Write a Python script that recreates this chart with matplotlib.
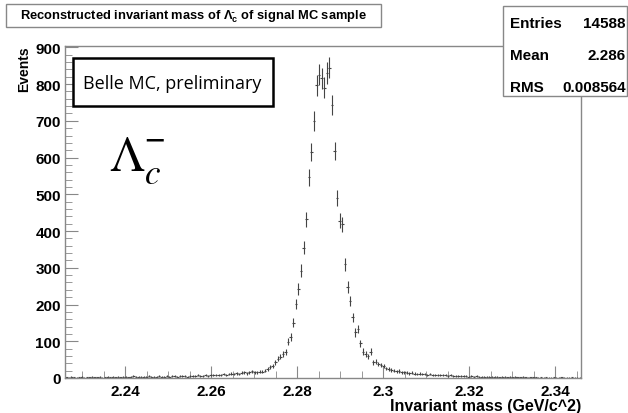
import numpy as np
import matplotlib
matplotlib.use("Agg")
import matplotlib.pyplot as plt
from matplotlib.patches import Rectangle
from matplotlib import font_manager

# histogram: 200 bins from 2.226 to 2.346 GeV/c^2
x_lo, x_hi, n_bins = 2.226, 2.346, 200

# counts, split in three parts
left_tail = [2, 1, 3, 2, 1, 2, 3, 1, 2, 2,
             3, 2, 2, 3, 1, 2, 3, 2, 4, 2,
             3, 2, 3, 4, 2, 3, 5, 3, 4, 3,
             4, 3, 5, 4, 3, 4, 5, 3, 4, 5,
             4, 5, 6, 4, 5, 6, 5, 4, 6, 5,
             6, 7, 5, 6, 8, 6, 7, 9, 7, 8,
             9, 10, 8, 11, 12, 10, 13, 11, 14, 15,
             13, 16, 18, 16, 15, 17]
peak = [17, 20, 24, 29, 33, 43, 53, 58, 65, 70,
        99, 111, 151, 201, 242, 292, 355, 432, 546, 615,
        700, 797, 825, 816, 790, 830, 845, 743, 618, 489,
        428, 419, 310, 247, 210, 165, 124, 133, 95, 72,
        65, 59, 72, 43, 44, 38, 35, 32, 26, 24,
        22, 20, 18, 19, 16, 15]
right_tail = [14, 13, 14, 12, 11, 12, 10, 11, 9, 10,
              8, 9, 8, 7, 8, 7, 6, 7, 6, 5,
              6, 5, 6, 5, 4, 5, 4, 5, 4, 3,
              4, 3, 4, 3, 3, 4, 2, 3, 3, 2,
              3, 2, 3, 2, 2, 3, 2, 1, 2, 2,
              2, 1, 2, 1, 2, 1, 1, 2, 1, 1,
              2, 1, 1, 1, 2, 1, 1, 1]

stats_names = ["Entries", "Mean", "RMS"]
stats_values = ["14588", "2.286", "0.008564"]
x_ticks = [2.24, 2.26, 2.28, 2.30, 2.32, 2.34]
x_ticklabels = ["2.24", "2.26", "2.28", "2.3", "2.32", "2.34"]
y_ticks = [0, 100, 200, 300, 400, 500, 600, 700, 800, 900]

counts = np.array(left_tail + peak + right_tail, dtype=float)
edges = np.linspace(x_lo, x_hi, n_bins + 1)
centers = 0.5 * (edges[:-1] + edges[1:])
bw = edges[1] - edges[0]

plt.rcParams['font.family'] = ['Liberation Sans', 'DejaVu Sans']
plt.rcParams['mathtext.default'] = 'regular'

# ROOT's Helvetica looks a bit condensed; use the narrow face if it is there
installed = {f.name for f in font_manager.fontManager.ttflist}
if 'Liberation Sans Narrow' in installed:
    narrow, title_size = 'Liberation Sans Narrow', 10.7
else:
    narrow, title_size = 'Liberation Sans', 9.3

W, H = 628, 414
fig = plt.figure(figsize=(W / 100, H / 100), dpi=100)
ax = fig.add_axes([65 / W, 1 - 379 / H, (581 - 65) / W, (379 - 46.5) / H])

ax.errorbar(centers, counts, xerr=bw / 2, yerr=np.sqrt(counts), fmt='none',
            ecolor='#444444', elinewidth=0.8, capsize=0)

ax.set_xlim(x_lo, x_hi)
ax.set_ylim(0, 905)
ax.set_xticks(x_ticks)
ax.set_xticklabels(x_ticklabels, fontweight='bold')
ax.set_yticks(y_ticks)
ax.set_yticklabels([str(v) for v in y_ticks], fontweight='bold')
ax.xaxis.set_minor_locator(matplotlib.ticker.MultipleLocator(0.005))
ax.yaxis.set_minor_locator(matplotlib.ticker.MultipleLocator(20))
ax.tick_params(which='both', direction='in', colors='#888888', labelcolor='black',
               labelsize=11)
ax.tick_params(axis='x', which='major', length=9, pad=4)
ax.tick_params(axis='x', which='minor', length=5)
ax.tick_params(axis='y', which='major', length=9, pad=3)
ax.tick_params(axis='y', which='minor', length=5)
for sp in ax.spines.values():
    sp.set_color('#888888')
    sp.set_linewidth(1.0)

ax.set_xlabel('Invariant mass (GeV/c^2)', loc='right', fontsize=11.5,
              fontweight='bold', labelpad=0)
ax.set_ylabel('Events', loc='top', fontsize=10, fontweight='bold', labelpad=3)

# title box
fig.patches.append(Rectangle((6 / W, 1 - 28 / H), 375 / W, 23 / H,
                             transform=fig.transFigure, fc='white',
                             ec='#888888', lw=1.0))
fig.text(193.5 / W, 1 - 16.5 / H,
         r'Reconstructed invariant mass of $\Lambda_c^{\bar{}}$ of signal MC sample',
         ha='center', va='center', fontsize=title_size, fontweight='bold',
         family=[narrow, 'Liberation Sans'])

# stats box
fig.patches.append(Rectangle((503 / W, 1 - 97 / H), 124 / W, 90 / H,
                             transform=fig.transFigure, fc='white',
                             ec='#888888', lw=1.0))
for i, (nm, val) in enumerate(zip(stats_names, stats_values)):
    yy = 1 - (24 + 32 * i) / H
    fig.text(510 / W, yy, nm, ha='left', va='center', fontsize=11,
             fontweight='bold')
    fig.text(626 / W, yy, val, ha='right', va='center', fontsize=11,
             fontweight='bold')

# Belle label
fig.patches.append(Rectangle((73 / W, 1 - 107 / H), 200 / W, 48 / H,
                             transform=fig.transFigure, fc='white',
                             ec='black', lw=1.8, zorder=5))
fig.text(172 / W, 1 - 84 / H, 'Belle MC, preliminary', ha='center',
         va='center', fontsize=13, family='Open Sans', zorder=6)

fig.text(109 / W, 1 - 170 / H, r'$\mathrm{\Lambda}_{\mathit{c}}^{-}$',
         ha='left', va='baseline', fontsize=36, math_fontfamily='stix')

fig.savefig('out.png', dpi=100)
